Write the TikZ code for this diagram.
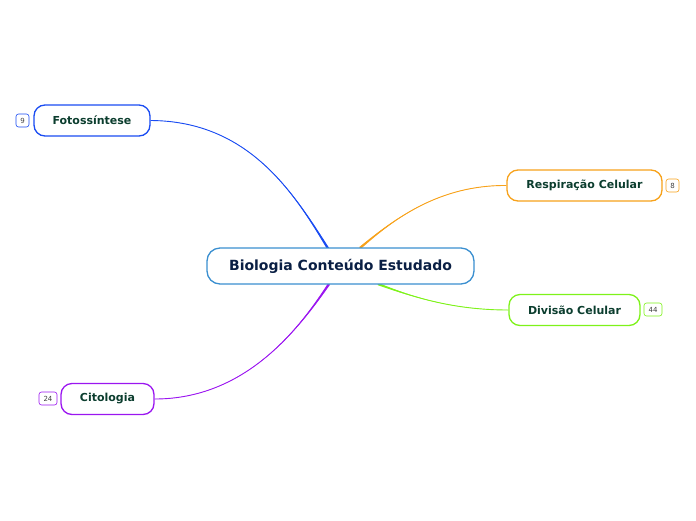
\documentclass[tikz,border=0pt]{standalone}
\usepackage{fontspec}
\setmainfont{DejaVu Sans}
\usetikzlibrary{calc}
\definecolor{cblue}{HTML}{1A4CF2}
\definecolor{corange}{HTML}{F7A21B}
\definecolor{cgreen}{HTML}{7EF21A}
\definecolor{cpurple}{HTML}{9B16F0}
\definecolor{ccentral}{HTML}{3A8FD0}
\definecolor{ctext}{HTML}{0B3D2E}
\definecolor{cnavy}{HTML}{0A1F44}
\begin{document}
\begin{tikzpicture}[x=1pt,y=-1pt,
  topic/.style={draw=#1, line width=1.3pt, rounded corners=11pt, fill=white, text=ctext,
    font=\fontsize{11}{13}\selectfont\bfseries, minimum height=31pt, inner xsep=6pt},
  badge/.style={draw=#1, line width=0.6pt, rounded corners=2.5pt, fill=white, text=black!75,
    font=\fontsize{7}{8}\selectfont, minimum height=13pt, minimum width=13pt, inner sep=1.5pt},
  link/.style={draw=#1, line width=0.9pt},
  taper/.style={fill=#1, draw=none}]
\useasboundingbox (0,0) rectangle (696,520);
% connector end points on the central topic
\coordinate (eb) at (329,250);
\coordinate (eo) at (360,248);
\coordinate (ep) at (329,284);
\coordinate (eg) at (378,284);
\node[topic=cblue, minimum width=116pt] (foto) at (92,120.5) {Fotossíntese};
\node[topic=corange, minimum width=155pt] (resp) at (584.5,185.5) {Respiração Celular};
\node[topic=cgreen, minimum width=131pt] (div) at (574.5,310) {Divisão Celular};
\node[topic=cpurple, minimum width=93pt] (cito) at (107.5,399) {Citologia};
% tapered connectors
\fill[taper=cblue] (foto.east) .. controls (250,121) and (295,195) .. ($(eb)+(1,-0.65)$)
  -- ($(eb)+(-1,0.65)$) .. controls (295,195) and (250,121) .. (foto.east) -- cycle;
\draw[link=cblue] (foto.east) .. controls (250,121) and (295,195) .. (eb);
\fill[taper=corange] (resp.west) .. controls (440,185) and (395,218) .. ($(eo)+(0.8,0.9)$)
  -- ($(eo)+(-0.8,-0.9)$) .. controls (395,218) and (440,185) .. (resp.west) -- cycle;
\draw[link=corange] (resp.west) .. controls (440,185) and (395,218) .. (eo);
\fill[taper=cgreen] (div.west) .. controls (455,310) and (415,298) .. ($(eg)+(0.42,-1.1)$)
  -- ($(eg)+(-0.42,1.1)$) .. controls (415,298) and (455,310) .. (div.west) -- cycle;
\draw[link=cgreen] (div.west) .. controls (455,310) and (415,298) .. (eg);
\fill[taper=cpurple] (cito.east) .. controls (245,399) and (298,330) .. ($(ep)+(1,0.7)$)
  -- ($(ep)+(-1,-0.7)$) .. controls (298,330) and (245,399) .. (cito.east) -- cycle;
\draw[link=cpurple] (cito.east) .. controls (245,399) and (298,330) .. (ep);
\node[draw=ccentral, line width=1.3pt, rounded corners=13pt, fill=white, text=cnavy,
  font=\fontsize{14}{16}\selectfont\bfseries, minimum width=267pt, minimum height=36pt]
  (central) at (340.5,266) {Biologia Conteúdo Estudado};
\node[badge=cblue] (b1) at (22.5,120.5) {9};
\node[badge=corange] (b2) at (672.5,185.5) {8};
\node[badge=cgreen, minimum width=18pt] (b3) at (653,309.5) {44};
\node[badge=cpurple, minimum width=18pt] (b4) at (48,398.5) {24};
\end{tikzpicture}
\end{document}
